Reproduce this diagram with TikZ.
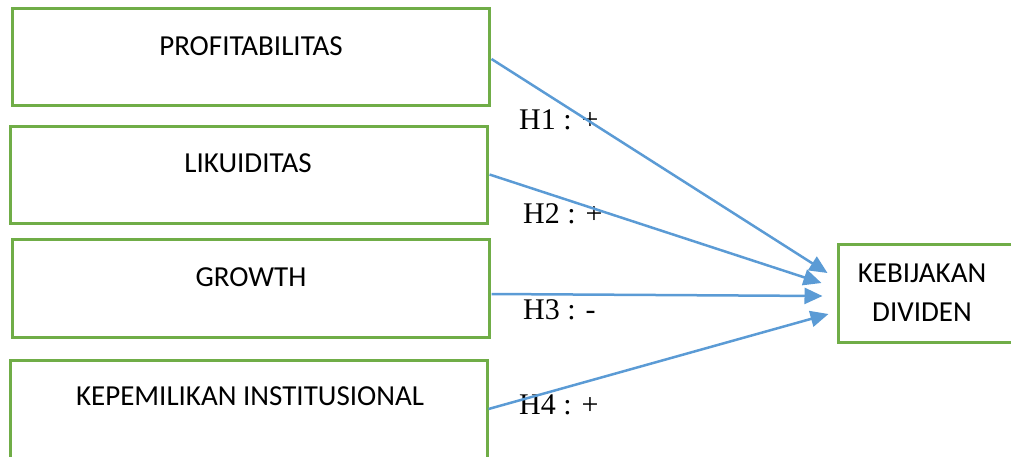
\documentclass[tikz,border=0pt]{standalone}
\usepackage{fontspec}
\setmainfont{Liberation Serif}
\newfontfamily\boxfont{Carlito}
\usetikzlibrary{arrows.meta,calc}
\definecolor{boxgreen}{HTML}{70AD47}
\definecolor{arrowblue}{HTML}{5B9BD5}
\begin{document}
\begin{tikzpicture}[x=1pt,y=-1pt,
  varbox/.style={draw=boxgreen,line width=3pt,fill=white,inner sep=0pt},
  boxtext/.style={font=\boxfont\fontsize{29}{39}\selectfont,anchor=base,inner sep=0pt},
  hlabel/.style={font=\fontsize{30}{36}\selectfont,anchor=base west,inner sep=0pt},
  link/.style={draw=arrowblue,line width=2.5pt,-{Triangle[length=18pt,width=16pt]}}]
\useasboundingbox (0,0) rectangle (1011,456);
\clip (0,0) rectangle (1011,456);
% boxes
\node[varbox,minimum width=477pt,minimum height=97pt] (pro) at (250.5,56.5) {};
\node[varbox,minimum width=477pt,minimum height=97pt] (lik) at (248.5,174.5) {};
\node[varbox,minimum width=477pt,minimum height=98pt] (gro) at (250.5,288) {};
\node[varbox,minimum width=477pt,minimum height=98pt] (kep) at (248.5,409) {};
\node[varbox,minimum width=190pt,minimum height=98pt] (keb) at (933,293) {};
% texts
\node[boxtext] (tpro) at (251,55) {PROFITABILITAS};
\node[boxtext] (tlik) at (248,172) {LIKUIDITAS};
\node[boxtext] (tgro) at (251,286) {GROWTH};
\node[boxtext] (tkep) at (250,405) {KEPEMILIKAN INSTITUSIONAL};
\node[boxtext,align=center,anchor=base] (tkeb) at (922,321) {KEBIJAKAN\\DIVIDEN};
% labels
\node[hlabel] (h1) at (519,129) {H1 : +};
\node[hlabel] (h2) at (523,223) {H2 : +};
\node[hlabel] (h3) at (523,319) {H3 : -};
\node[hlabel] (h4) at (519,414) {H4 : +};
% arrows
\draw[link] ($(pro.east)+(1,2.5)$) -- ($(keb.west)+(-9,-20)$);
\draw[link] ($(lik.east)+(1,0)$) -- ($(keb.west)+(-15,-10)$);
\draw[link] ($(gro.east)+(1,6)$) -- ($(keb.west)+(-14,3)$);
\draw[link] ($(kep.east)+(0,0)$) -- ($(keb.west)+(-8,21)$);
\end{tikzpicture}
\end{document}
